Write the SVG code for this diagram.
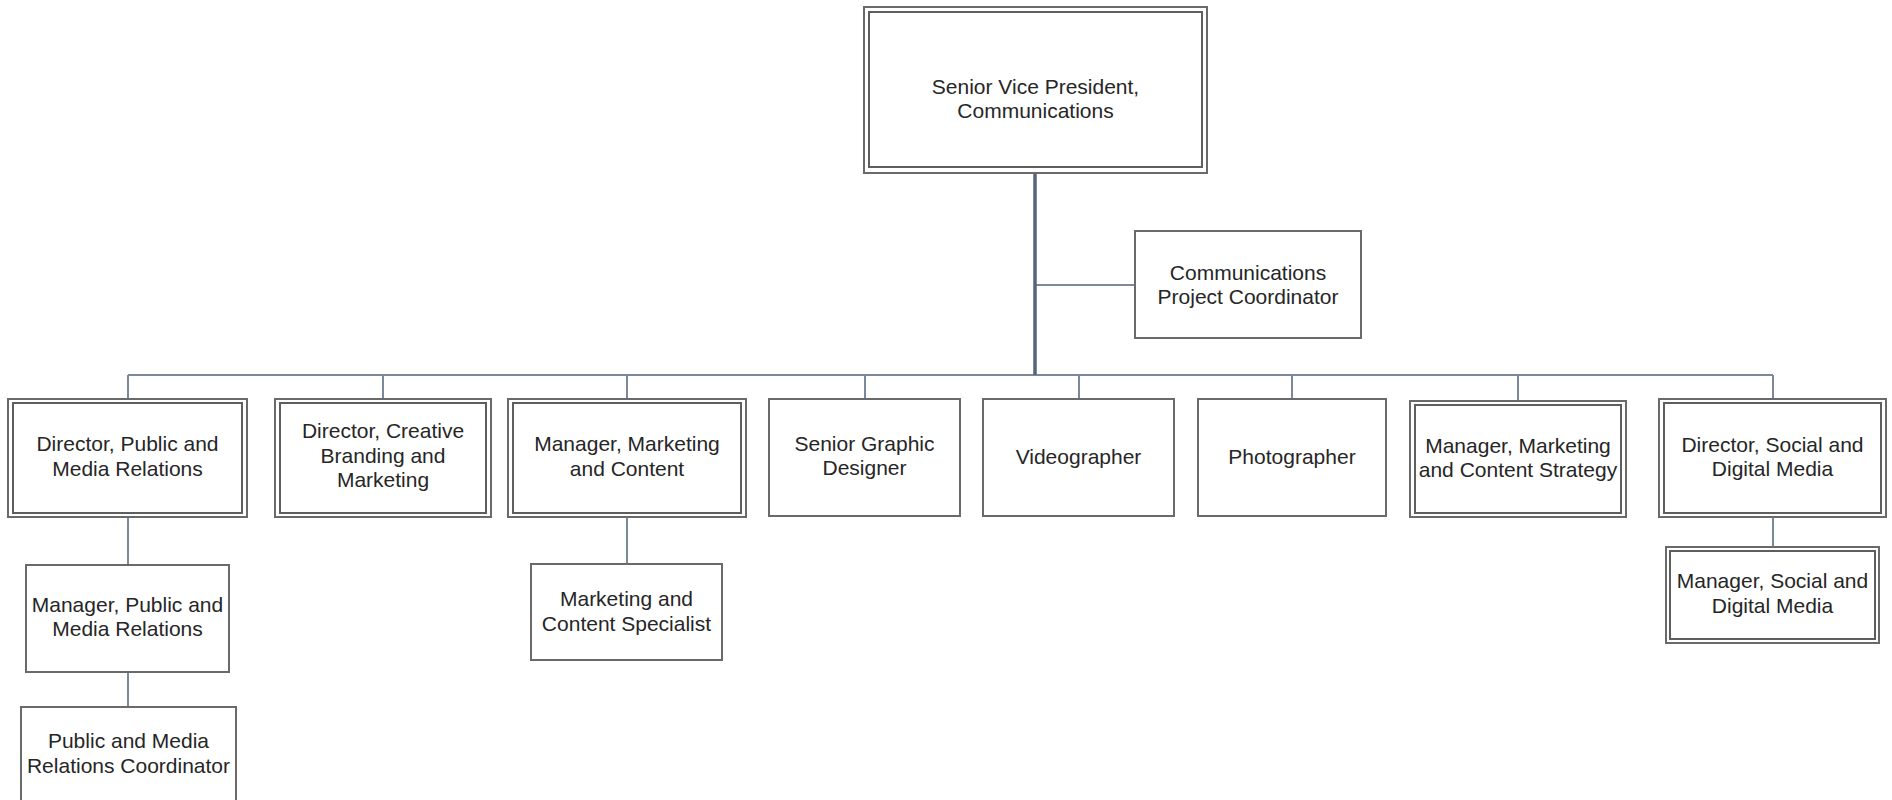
<svg xmlns="http://www.w3.org/2000/svg" width="1892" height="800" viewBox="0 0 1892 800">
  <style>
    .box { fill: #ffffff; stroke: #6a6a6a; stroke-width: 2; }
    .inner { fill: none; stroke: #5e5e5e; stroke-width: 2; }
    .label { font-family: "Liberation Sans", Arial, sans-serif; font-size: 21px; fill: #262626; text-anchor: middle; }
    .link { fill: none; stroke: #7a8a9c; stroke-width: 2; }
    .trunk { fill: none; stroke: #56657a; stroke-width: 3.5; }
  </style>
  <rect x="0" y="0" width="1892" height="800" fill="#ffffff"/>

  <!-- reporting lines -->
  <g id="connectors">
    <path class="link" d="M128 375 H1773"/>
    <path class="link" d="M128 375 V399 M383 375 V399 M627 375 V399 M865 375 V399 M1079 375 V399 M1292 375 V399 M1518 375 V401 M1773 375 V399"/>
    <path class="link" d="M1035 285 H1135"/>
    <path class="link" d="M128 517 V565 M128 672 V707"/>
    <path class="link" d="M627 517 V564"/>
    <path class="link" d="M1773 517 V547"/>
    <path class="trunk" d="M1035 173 V375"/>
  </g>

  <g id="svp">
    <rect class="box" x="864" y="7" width="343" height="166"/>
    <rect class="inner" x="869" y="12" width="333" height="155"/>
    <text class="label" x="1035.5" y="94">Senior Vice President,</text>
    <text class="label" x="1035.5" y="118">Communications</text>
  </g>

  <g id="comm-coordinator">
    <rect class="box" x="1135" y="231" width="226" height="107"/>
    <text class="label" x="1248" y="280">Communications</text>
    <text class="label" x="1248" y="304">Project Coordinator</text>
  </g>

  <g id="dir-public-media">
    <rect class="box" x="8" y="399" width="239" height="118"/>
    <rect class="inner" x="13" y="403" width="229" height="110"/>
    <text class="label" x="127.5" y="451">Director, Public and</text>
    <text class="label" x="127.5" y="475.5">Media Relations</text>
  </g>

  <g id="dir-creative">
    <rect class="box" x="275" y="399" width="216" height="118"/>
    <rect class="inner" x="280" y="403" width="206" height="110"/>
    <text class="label" x="383" y="438">Director, Creative</text>
    <text class="label" x="383" y="462.5">Branding and</text>
    <text class="label" x="383" y="487">Marketing</text>
  </g>

  <g id="mgr-marketing-content">
    <rect class="box" x="508" y="399" width="238" height="118"/>
    <rect class="inner" x="513" y="403" width="228" height="110"/>
    <text class="label" x="627" y="451">Manager, Marketing</text>
    <text class="label" x="627" y="475.5">and Content</text>
  </g>

  <g id="senior-graphic-designer">
    <rect class="box" x="769" y="399" width="191" height="117"/>
    <text class="label" x="864.5" y="450.5">Senior Graphic</text>
    <text class="label" x="864.5" y="475">Designer</text>
  </g>

  <g id="videographer">
    <rect class="box" x="983" y="399" width="191" height="117"/>
    <text class="label" x="1078.5" y="464">Videographer</text>
  </g>

  <g id="photographer">
    <rect class="box" x="1198" y="399" width="188" height="117"/>
    <text class="label" x="1292" y="464">Photographer</text>
  </g>

  <g id="mgr-marketing-strategy">
    <rect class="box" x="1410" y="401" width="216" height="116"/>
    <rect class="inner" x="1415" y="405" width="206" height="108"/>
    <text class="label" x="1518" y="452.5">Manager, Marketing</text>
    <text class="label" x="1518" y="477">and Content Strategy</text>
  </g>

  <g id="dir-social-digital">
    <rect class="box" x="1659" y="399" width="227" height="118"/>
    <rect class="inner" x="1664" y="403" width="217" height="110"/>
    <text class="label" x="1772.5" y="451.5">Director, Social and</text>
    <text class="label" x="1772.5" y="476">Digital Media</text>
  </g>

  <g id="mgr-social-digital">
    <rect class="box" x="1666" y="547" width="213" height="96"/>
    <rect class="inner" x="1670" y="551" width="205" height="88"/>
    <text class="label" x="1772.5" y="588">Manager, Social and</text>
    <text class="label" x="1772.5" y="613">Digital Media</text>
  </g>

  <g id="mgr-public-media">
    <rect class="box" x="26" y="565" width="203" height="107"/>
    <text class="label" x="127.5" y="611.5">Manager, Public and</text>
    <text class="label" x="127.5" y="636">Media Relations</text>
  </g>

  <g id="public-media-coordinator">
    <rect class="box" x="21" y="707" width="215" height="107"/>
    <text class="label" x="128.5" y="748">Public and Media</text>
    <text class="label" x="128.5" y="773">Relations Coordinator</text>
  </g>

  <g id="marketing-content-specialist">
    <rect class="box" x="531" y="564" width="191" height="96"/>
    <text class="label" x="626.5" y="606">Marketing and</text>
    <text class="label" x="626.5" y="630.5">Content Specialist</text>
  </g>
</svg>
